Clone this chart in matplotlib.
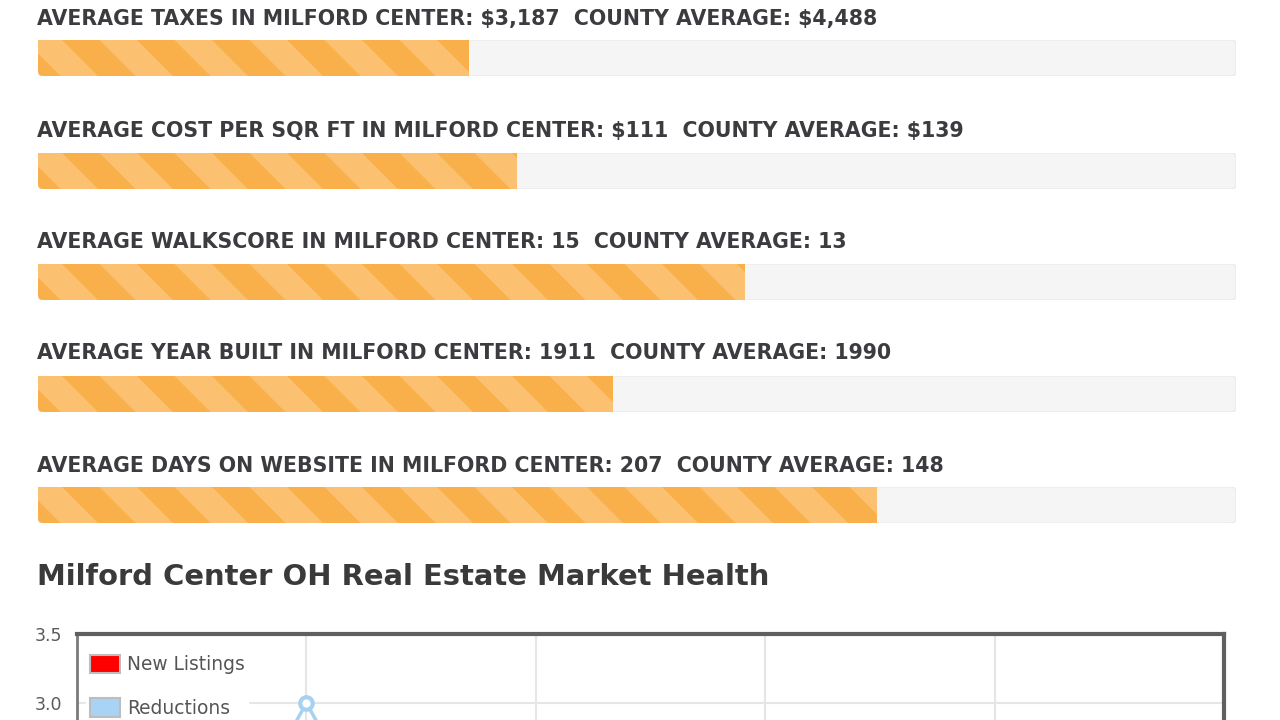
import matplotlib
matplotlib.use("Agg")
import matplotlib.pyplot as plt
from matplotlib.patches import FancyBboxPatch, Polygon, Patch

plt.rcParams["text.parse_math"] = False

# ---------------- data ----------------
bar_labels = [
    "AVERAGE TAXES IN MILFORD CENTER: $3,187  COUNTY AVERAGE: $4,488",
    "AVERAGE COST PER SQR FT IN MILFORD CENTER: $111  COUNTY AVERAGE: $139",
    "AVERAGE WALKSCORE IN MILFORD CENTER: 15  COUNTY AVERAGE: 13",
    "AVERAGE YEAR BUILT IN MILFORD CENTER: 1911  COUNTY AVERAGE: 1990",
    "AVERAGE DAYS ON WEBSITE IN MILFORD CENTER: 207  COUNTY AVERAGE: 148",
]
bar_percent = [36, 40, 59, 48, 70]

chart_title = "Milford Center OH Real Estate Market Health"
x_positions = [0, 1, 2, 3, 4, 5]
new_listings = [1, 0, 0, 1, 0, 0]
reductions = [0, 3, 0, 1, 0, 0]
y_labeled_ticks = [3.0, 3.5]
y_grid_ticks = [0.0, 0.5, 1.0, 1.5, 2.0, 2.5]

# ---------------- layout helpers ----------------
W, H = 1280, 720
fig = plt.figure(figsize=(12.8, 7.2), dpi=100)
fig.patch.set_facecolor("white")


def fx(px):
    return px / W


def fy(py):
    return 1 - py / H


label_y = [19, 131, 242, 353, 466]
bar_top = [40, 153, 264, 376, 487]
bar_h = 36
track_l, track_r = 38, 1236
track_w = track_r - track_l

TEXT = "#3b3b40"
DARK_OR = "#F9B04A"
LIGHT_OR = "#FBC070"

for i, lab in enumerate(bar_labels):
    fig.text(fx(37), fy(label_y[i]), lab, fontsize=14.8, fontweight="bold",
             color=TEXT, va="center", ha="left", family="DejaVu Sans")
    ax = fig.add_axes([fx(track_l), fy(bar_top[i] + bar_h), track_w / W, bar_h / H])
    ax.set_xlim(0, 100)
    ax.set_ylim(0, 1)
    ax.axis("off")
    px_per_x = track_w / 100.0
    aspect = px_per_x / bar_h
    r = 5 / px_per_x
    track = FancyBboxPatch((0, 0), 100, 1,
                           boxstyle="round,pad=0,rounding_size=%f" % r,
                           mutation_aspect=aspect,
                           facecolor="#F5F5F5", edgecolor="#EBEBEB", lw=1.0)
    ax.add_patch(track)
    clip = FancyBboxPatch((0, 0), 100, 1,
                          boxstyle="round,pad=0,rounding_size=%f" % r,
                          mutation_aspect=aspect, facecolor="none",
                          edgecolor="none")
    ax.add_patch(clip)
    bars = ax.barh([0.5], [bar_percent[i]], height=1, left=0, color=DARK_OR,
                   linewidth=0)
    bar = bars[0]
    bar.set_clip_path(clip)
    # decorative diagonal stripes clipped to the bar
    period = 75 / px_per_x
    half = period / 2
    slant = bar_h / px_per_x
    x0 = -slant + 0.3 * period
    while x0 < bar_percent[i] + period:
        poly = Polygon([(x0, 1), (x0 + half, 1), (x0 + half + slant, 0),
                        (x0 + slant, 0)], closed=True, facecolor=LIGHT_OR,
                       edgecolor="none")
        ax.add_patch(poly)
        poly.set_clip_path(bar)
        x0 += period

# ---------------- title ----------------
fig.text(fx(37), fy(577), chart_title, fontsize=20.9, fontweight="bold",
         color="#3a3a3a", va="center", ha="left", family="DejaVu Sans")

# ---------------- line chart (cut off at bottom) ----------------
ax_l, ax_r, ax_t = 77, 1224, 634
px_per_unit = (703 - 634) / 0.5
ax_h_px = 3.5 * px_per_unit
cax = fig.add_axes([fx(ax_l), fy(ax_t + ax_h_px), (ax_r - ax_l) / W, ax_h_px / H])
cax.set_xlim(0, 5)
cax.set_ylim(0, 3.5)
cax.set_xticks([1, 2, 3, 4])
cax.set_xticklabels([])
cax.set_yticks(y_labeled_ticks)
cax.set_yticklabels(["%.1f" % v for v in y_labeled_ticks])
cax.set_yticks(y_grid_ticks, minor=True)
cax.tick_params(axis="both", which="both", length=0)
cax.tick_params(axis="y", pad=11, labelsize=12.5, labelcolor="#5a5a5a")
cax.grid(True, which="both", color="#E6E6E6", lw=1.5)
cax.set_axisbelow(True)
cax.spines["top"].set_color("#5f5f5f")
cax.spines["top"].set_linewidth(3)
cax.spines["right"].set_color("#5f5f5f")
cax.spines["right"].set_linewidth(3)
cax.spines["left"].set_color("#7a7a7a")
cax.spines["left"].set_linewidth(2)
cax.spines["bottom"].set_visible(False)

cax.plot(x_positions, new_listings, color="#FF0000", lw=2.5, marker="o",
         markersize=8, markerfacecolor="white", markeredgewidth=2.5, zorder=3)
cax.plot(x_positions, reductions, color="#A6D2F2", lw=2.5, marker="o",
         markersize=9, markerfacecolor="white", markeredgecolor="#A6D2F2",
         markeredgewidth=3, zorder=3)

handles = [Patch(facecolor="#FF0000", edgecolor="#BDBDBD", lw=1.5),
           Patch(facecolor="#A9D3F5", edgecolor="#BDBDBD", lw=1.5)]
leg = cax.legend(handles, ["New Listings", "Reductions"], loc="upper left",
                 bbox_to_anchor=(fx(86), fy(651)),
                 bbox_transform=fig.transFigure, frameon=True,
                 facecolor="white", edgecolor="white", framealpha=1,
                 handlelength=1.6, handleheight=1.15,
                 handletextpad=0.4, labelspacing=1.3, borderpad=0.2,
                 borderaxespad=0, prop={"family": "DejaVu Sans", "size": 13.4})
leg.get_frame().set_boxstyle("square", pad=0.0)
for t in leg.get_texts():
    t.set_color("#555555")

fig.savefig("out.png", dpi=100, facecolor="white")
